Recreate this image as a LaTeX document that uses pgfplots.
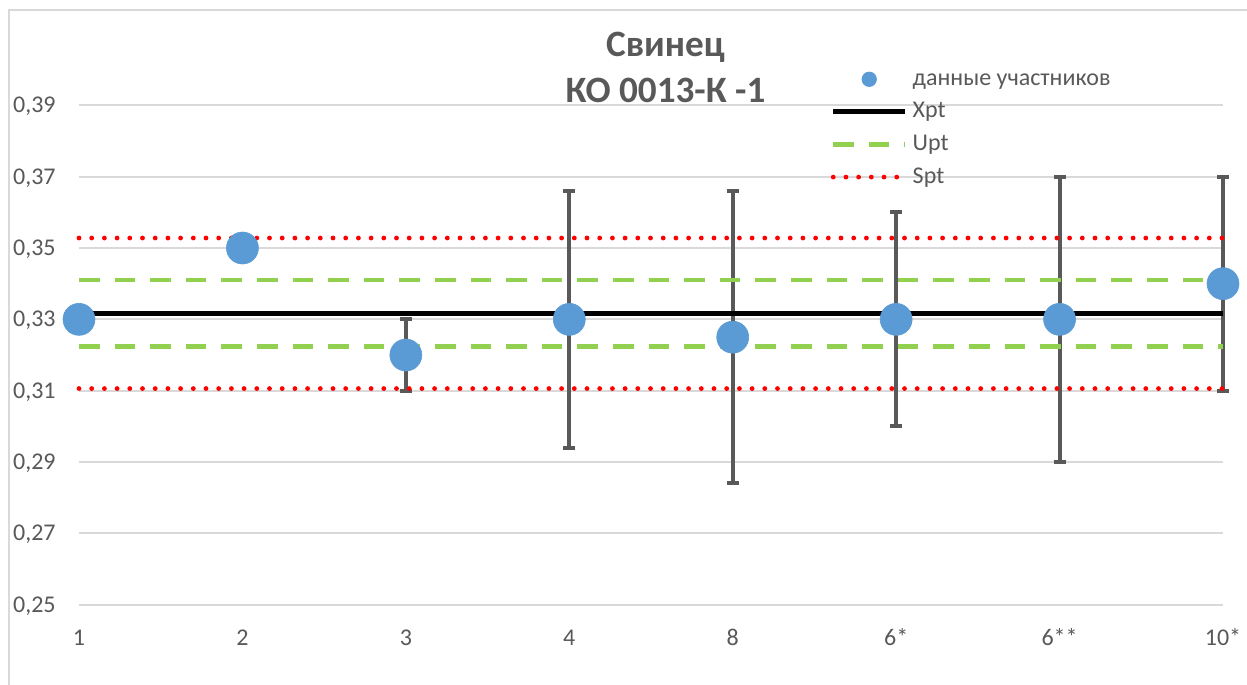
\documentclass[border=0pt]{standalone}
\usepackage{fontspec}
\setmainfont{Carlito}
\usepackage{pgfplots}
\pgfplotsset{compat=1.18}
\usepackage{pgfplotstable}

\definecolor{txt}{HTML}{595959}
\definecolor{grd}{HTML}{D9D9D9}
\definecolor{pt}{HTML}{5B9BD5}
\definecolor{upt}{HTML}{92D050}
\definecolor{spt}{HTML}{FF0000}
\definecolor{bar}{HTML}{595959}

% participant results: category index, value, expanded uncertainty
\pgfplotstableread{
x y ey
0 0.330 0
1 0.350 0
2 0.320 0.010
3 0.330 0.036
4 0.325 0.041
5 0.330 0.030
6 0.330 0.040
7 0.340 0.030
}\results

\begin{document}
\begin{tikzpicture}
\path[use as bounding box] (0,0) rectangle (623.5bp,342.5bp);
\fill[white] (0,0) rectangle (623.5bp,342.5bp);
\draw[grd, line width=1.25bp] (4.5bp,-1bp) -- (4.5bp,337.5bp) -- (625bp,337.5bp);

\begin{axis}[
  at={(39.5bp,40.15bp)}, anchor=south west,
  scale only axis, width=572bp, height=285.35bp,
  xmin=0, xmax=7, ymin=0.25, ymax=0.41,
  clip=false,
  axis line style={draw=none},
  major tick length=0pt,
  ymajorgrids, grid style={grd, line width=1bp},
  xtick={0,...,7},
  xticklabels={1,2,3,4,8,6*,6**,10*},
  ytick={0.25,0.27,0.29,0.31,0.33,0.35,0.37,0.39},
  yticklabels={{0,25},{0,27},{0,29},{0,31},{0,33},{0,35},{0,37},{0,39}},
  tick label style={font=\fontsize{12bp}{14bp}\selectfont, text=txt, inner sep=0pt, text height=7.6bp, text depth=0pt},
  yticklabel style={anchor=east, xshift=-11.5bp},
  xticklabel style={anchor=north, yshift=-12.7bp},
  legend style={at={(rel axis cs:0.6571,0.9492)}, anchor=north west,
    draw=none, fill=none, inner sep=0pt, outer sep=0pt,
    row sep=0pt, column sep=2.5bp,
    font=\fontsize{12bp}{14bp}\selectfont, text=txt,
    nodes={inner sep=0pt, text height=11.2bp, text depth=5.1bp, anchor=west}},
  legend cell align=left,
]
% error bars of the participants
\addplot[only marks, mark=none, bar, forget plot,
  skip coords between index={0}{2},
  error bars/.cd, y dir=both, y explicit, error mark=|,
  error bar style={draw=bar, line width=2bp},
  error mark options={draw=bar, line width=2bp, mark size=3bp}]
  table[x=x, y=y, y error=ey] \results;

% assigned value and its bounds
\addplot[spt, line width=2.4bp, line cap=round, dash pattern=on 0bp off 6.35bp, forget plot]
  coordinates {(0,0.3528) (7,0.3528)};
\addplot[spt, line width=2.4bp, line cap=round, dash pattern=on 0bp off 6.35bp, forget plot]
  coordinates {(0,0.3106) (7,0.3106)};
\addplot[upt, line width=2.25bp, dash pattern=on 10.3bp off 7.5bp, forget plot]
  coordinates {(0,0.3411) (7,0.3411)};
\addplot[upt, line width=2.25bp, dash pattern=on 10.3bp off 7.5bp, forget plot]
  coordinates {(0,0.3224) (7,0.3224)};
\addplot[black, line width=2.5bp, forget plot]
  coordinates {(0,0.3317) (7,0.3317)};

% participant values
\addplot[only marks, mark=*, mark size=8bp, mark options={fill=pt, draw=pt, line width=0.3bp}, forget plot]
  table[x=x, y=y] \results;

\addlegendimage{legend image code/.code={\draw plot[only marks, mark=*, mark size=3.6bp, mark options={fill=pt, draw=pt}] coordinates {(18bp,0bp)};}}
\addlegendentry{данные участников}
\addlegendimage{legend image code/.code={\draw[black, line width=2.5bp] (0bp,0bp) -- (36bp,0bp);}}
\addlegendentry{Xpt}
\addlegendimage{legend image code/.code={\draw[upt, line width=2.25bp, dash pattern=on 10.3bp off 7.5bp] (0bp,0bp) -- (36bp,0bp);}}
\addlegendentry{Upt}
\addlegendimage{legend image code/.code={\draw[spt, line width=2.4bp, line cap=round, dash pattern=on 0bp off 6.35bp] (0bp,0bp) -- (36bp,0bp);}}
\addlegendentry{Spt}
\end{axis}

\node[anchor=base, inner sep=0pt, text=txt, font=\fontsize{18.6bp}{22bp}\selectfont\bfseries] at (332.75bp,314bp) {Свинец};
\node[anchor=base, inner sep=0pt, text=txt, font=\fontsize{18.6bp}{22bp}\selectfont\bfseries] at (332.75bp,291bp) {КО 0013-К -1};
\end{tikzpicture}
\end{document}
